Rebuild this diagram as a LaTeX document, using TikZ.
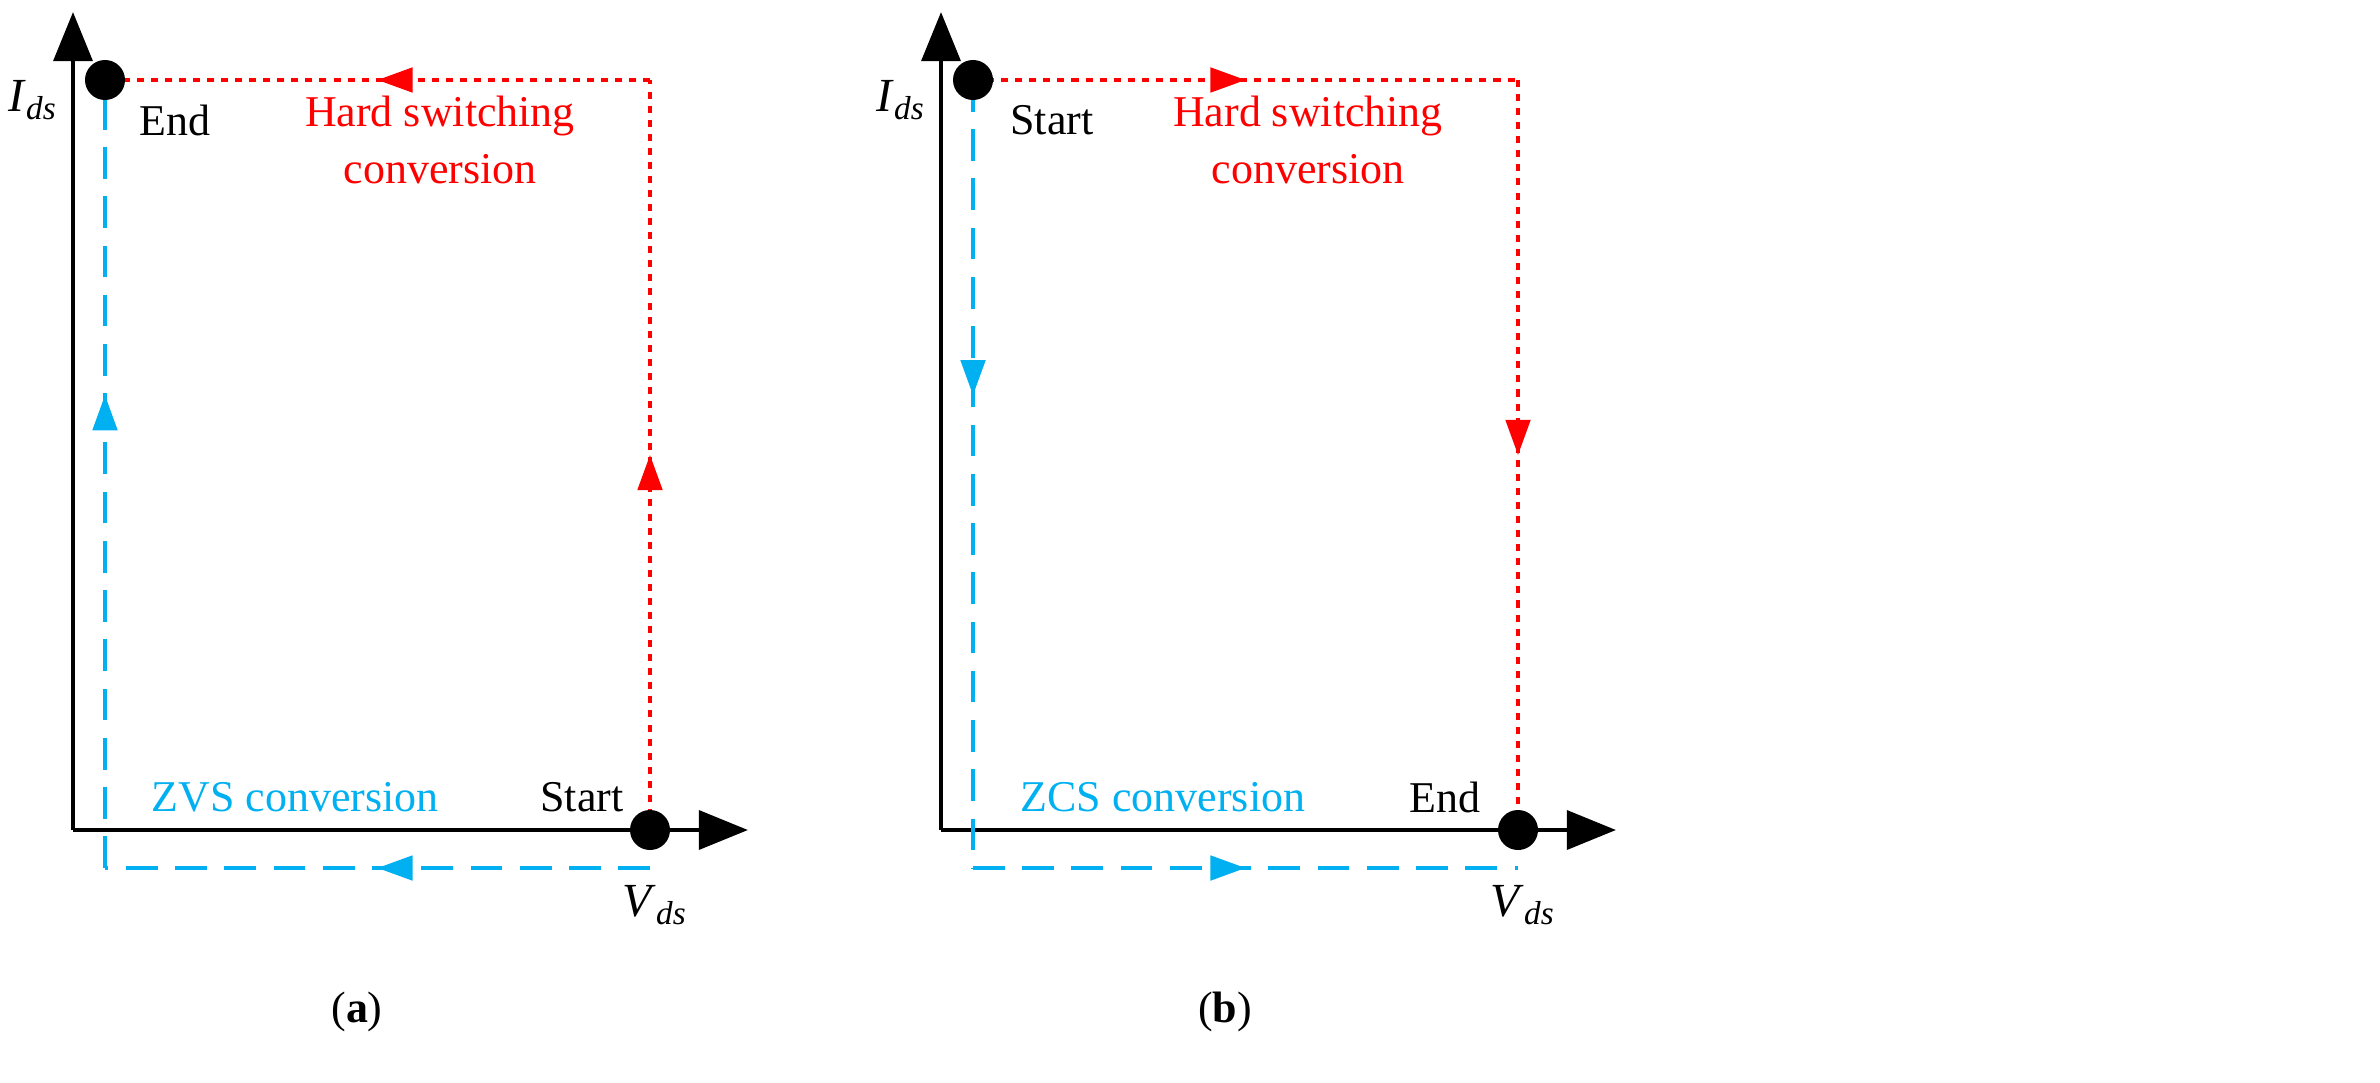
\documentclass[tikz,border=0pt]{standalone}
\usepackage{fontspec}
\setmainfont{Liberation Serif}
\usetikzlibrary{arrows.meta,decorations.markings}
\definecolor{hred}{RGB}{255,0,0}
\definecolor{zblue}{RGB}{0,176,240}
\begin{document}
\begin{tikzpicture}[x=0.01cm,y=-0.01cm,
  axis/.style={line width=1.4pt,-{Triangle[length=14pt,width=11pt]}},
  dot/.style={circle,fill=black,minimum size=0.4cm,inner sep=0},
  hard/.style={hred,line width=0.9pt,dash pattern=on 2pt off 2pt},
  soft/.style={zblue,line width=0.9pt,dash pattern=on 9pt off 5pt},
  midarr/.style={postaction={decorate},decoration={markings,mark=at position #1 with {\arrow{Triangle[length=10pt,width=7pt]}}}},
  lbl/.style={font=\fontsize{12.5pt}{15pt}\selectfont,align=center}]
\useasboundingbox (0,0) rectangle (2380,1082);
\foreach \o/\s in {0/a,868/b}{
\begin{scope}[xshift=\o*0.01cm]
  \coordinate (O\s) at (73,830);
  \coordinate (Y\s) at (73,12);
  \coordinate (X\s) at (748,830);
  \coordinate (TL\s) at (105,80);
  \coordinate (TR\s) at (650,80);
  \coordinate (BL\s) at (105,868);
  \coordinate (BR\s) at (650,868);
  \coordinate (BRd\s) at (650,830);
  \node[lbl,font=\fontsize{13.5pt}{16pt}\selectfont] (I\s) at (33,100) {\textit{I}\textsubscript{\textit{ds}}};
  \node[lbl,font=\fontsize{13.5pt}{16pt}\selectfont] (V\s) at (655,905) {\textit{V}\textsubscript{\textit{ds}}};
  \node[lbl] (H\s) at (440,140) {\textcolor{hred}{Hard switching}\\[1pt]\textcolor{hred}{conversion}};
  \node[lbl] (cap\s) at (357,1012) {(\textbf{\s})};
\end{scope}}
% panel a
\draw[axis] (Oa) -- (Ya);
\draw[axis] (Oa) -- (Xa);
\draw[hard,midarr=0.5] (BRda) -- (TRa);
\draw[hard,midarr=0.5] (TRa) -- (TLa);
\draw[soft,midarr=0.5] (BRa) -- (BLa);
\draw[soft,midarr=0.6] (BLa) -- (TLa);
\node[dot] (da1) at (TLa) {};
\node[dot] (da2) at (BRda) {};
\node[lbl] (ea) at (175,120) {End};
\node[lbl] (sa) at (582,797) {Start};
\node[lbl,zblue] (za) at (295,797) {ZVS conversion};
% panel b
\draw[axis] (Ob) -- (Yb);
\draw[axis] (Ob) -- (Xb);
\draw[hard,midarr=0.5] (TLb) -- (TRb);
\draw[hard,midarr=0.5] (TRb) -- (BRdb);
\draw[soft,midarr=0.4] (TLb) -- (BLb);
\draw[soft,midarr=0.5] (BLb) -- (BRb);
\node[dot] (db1) at (TLb) {};
\node[dot] (db2) at (BRdb) {};
\node[lbl] (sb) at (1052,120) {Start};
\node[lbl] (eb) at (1445,797) {End};
\node[lbl,zblue] (zb) at (1163,797) {ZCS conversion};
\end{tikzpicture}
\end{document}
